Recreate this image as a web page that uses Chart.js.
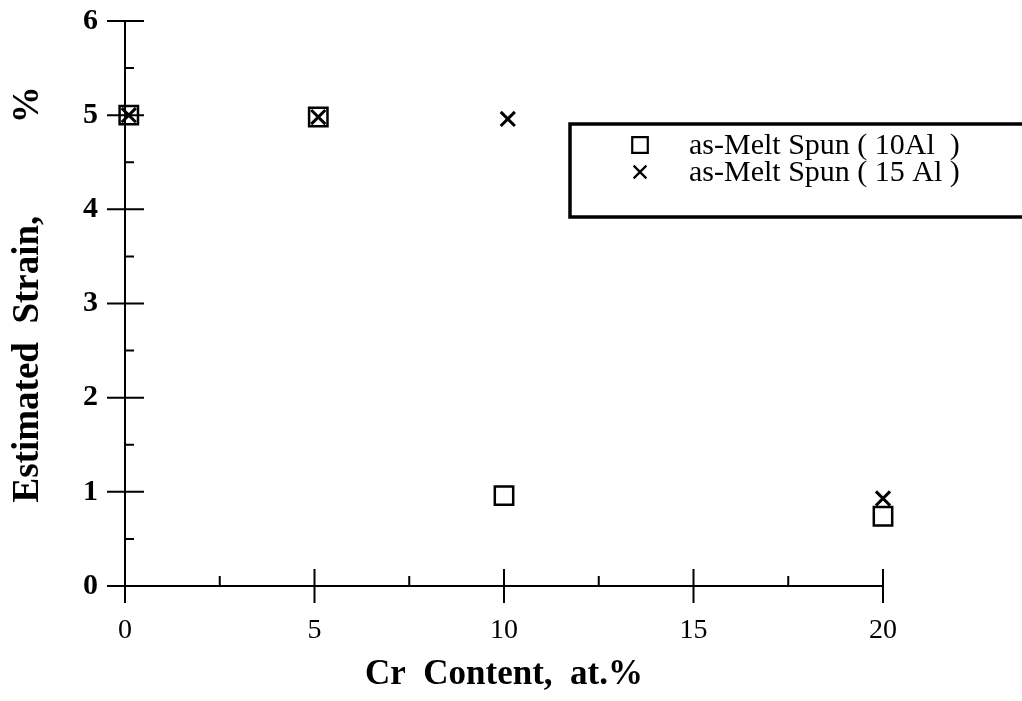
<!DOCTYPE html>
<html>
<head>
<meta charset="utf-8">
<script src="https://cdn.jsdelivr.net/npm/chart.js@4/dist/chart.umd.min.js"></script>
<style>
  body { margin: 0; background: #fff; }
  #wrap { width: 1022px; height: 701px; }
</style>
</head>
<body>
<div id="wrap"><canvas id="strainChart" width="1022" height="701"></canvas></div>
<script>
// Cr content (at.%) and estimated strain (%)
const crAl10 = [0.1, 5.1, 10.0, 20.0];
const strainAl10 = [5.0, 4.98, 0.96, 0.74];
const crAl15 = [0.1, 5.1, 10.1, 20.0];
const strainAl15 = [5.0, 4.98, 4.96, 0.93];

const labelAl10 = 'as-Melt Spun ( 10Al  )';
const labelAl15 = 'as-Melt Spun ( 15 Al )';

// tick positions
const xMajor = [0, 5, 10, 15, 20];
const xMinor = [2.5, 7.5, 12.5, 17.5];
const yMajor = [0, 1, 2, 3, 4, 5, 6];
const yMinor = [0.5, 1.5, 2.5, 3.5, 4.5, 5.5];

const serif = "'Liberation Serif', 'Times New Roman', serif";

function toPoints(xs, ys) {
  return xs.map((x, i) => ({ x: x, y: ys[i] }));
}

// ticks that cross the axis, minor ticks on the inside only
const tickMarks = {
  id: 'tickMarks',
  beforeDatasetsDraw(chart) {
    const ctx = chart.ctx;
    const xs = chart.scales.x, ys = chart.scales.y;
    const ax = chart.chartArea.left, ay = chart.chartArea.bottom;
    ctx.save();
    ctx.strokeStyle = '#000';
    ctx.lineWidth = 2;
    ctx.beginPath();
    yMajor.forEach(v => {
      const py = ys.getPixelForValue(v);
      ctx.moveTo(ax - 18, py); ctx.lineTo(ax + 19, py);
    });
    yMinor.forEach(v => {
      const py = ys.getPixelForValue(v);
      ctx.moveTo(ax, py); ctx.lineTo(ax + 9, py);
    });
    xMajor.forEach(v => {
      const px = xs.getPixelForValue(v);
      ctx.moveTo(px, ay - 17); ctx.lineTo(px, ay + 17);
    });
    xMinor.forEach(v => {
      const px = xs.getPixelForValue(v);
      ctx.moveTo(px, ay); ctx.lineTo(px, ay - 10);
    });
    ctx.stroke();
    ctx.restore();
  }
};

// boxed legend in the upper right
const boxLegend = {
  id: 'boxLegend',
  afterDraw(chart) {
    const ctx = chart.ctx;
    ctx.save();
    ctx.strokeStyle = '#000';
    ctx.lineWidth = 3.5;
    ctx.strokeRect(570, 124, 470, 93);
    const rows = [
      { ds: chart.data.datasets[0], y: 145, r: 11 },
      { ds: chart.data.datasets[1], y: 172, r: 9 }
    ];
    ctx.textBaseline = 'middle';
    rows.forEach(row => {
      ctx.strokeStyle = '#000';
      ctx.fillStyle = 'rgba(0,0,0,0)';
      ctx.lineWidth = 2.2;
      Chart.helpers.drawPoint(ctx, { pointStyle: row.ds.pointStyle, radius: row.r, borderWidth: 2.2 }, 640, row.y);
      ctx.fillStyle = '#000';
      ctx.font = '30px ' + serif;
      ctx.fillText(row.ds.label, 689, row.y + 1);
    });
    ctx.restore();
  }
};

new Chart(document.getElementById('strainChart').getContext('2d'), {
  type: 'scatter',
  data: {
    datasets: [
      {
        label: labelAl10,
        data: toPoints(crAl10, strainAl10),
        pointStyle: 'rect',
        pointRadius: 13,
        borderWidth: 2.5,
        borderColor: '#000',
        backgroundColor: 'rgba(0,0,0,0)',
        clip: false
      },
      {
        label: labelAl15,
        data: toPoints(crAl15, strainAl15),
        pointStyle: 'crossRot',
        pointRadius: 10,
        borderWidth: 3,
        borderColor: '#000',
        backgroundColor: '#000',
        clip: false
      }
    ]
  },
  options: {
    responsive: false,
    animation: false,
    events: [],
    layout: { padding: { top: 21, right: 139, left: 0, bottom: 0 } },
    plugins: {
      legend: { display: false },
      tooltip: { enabled: false }
    },
    scales: {
      x: {
        type: 'linear',
        min: 0,
        max: 20,
        afterFit(scale) {
          scale.height = 115;
          scale.paddingLeft = 0;
          scale.paddingRight = 0;
        },
        afterBuildTicks(scale) { scale.ticks = xMajor.map(v => ({ value: v })); },
        grid: { display: false, drawTicks: false },
        border: { display: true, color: '#000', width: 2 },
        ticks: {
          padding: 28,
          color: '#000',
          font: { family: serif, size: 28 }
        },
        title: {
          display: true,
          text: 'Cr  Content,  at.%',
          color: '#000',
          font: { family: serif, size: 35, weight: 'bold' },
          padding: { top: 0, bottom: 5 }
        }
      },
      y: {
        type: 'linear',
        min: 0,
        max: 6,
        afterFit(scale) {
          scale.width = 125;
          scale.paddingTop = 0;
          scale.paddingBottom = 0;
        },
        afterBuildTicks(scale) { scale.ticks = yMajor.map(v => ({ value: v })); },
        grid: { display: false, drawTicks: false },
        border: { display: true, color: '#000', width: 2 },
        ticks: {
          padding: 27,
          color: '#000',
          font: { family: serif, size: 30, weight: 'bold' }
        },
        title: {
          display: true,
          text: '  Estimated  Strain,          %',
          color: '#000',
          font: { family: serif, size: 37, weight: 'bold' },
          padding: { top: 6, bottom: 0 }
        }
      }
    }
  },
  plugins: [tickMarks, boxLegend]
});
</script>
</body>
</html>
